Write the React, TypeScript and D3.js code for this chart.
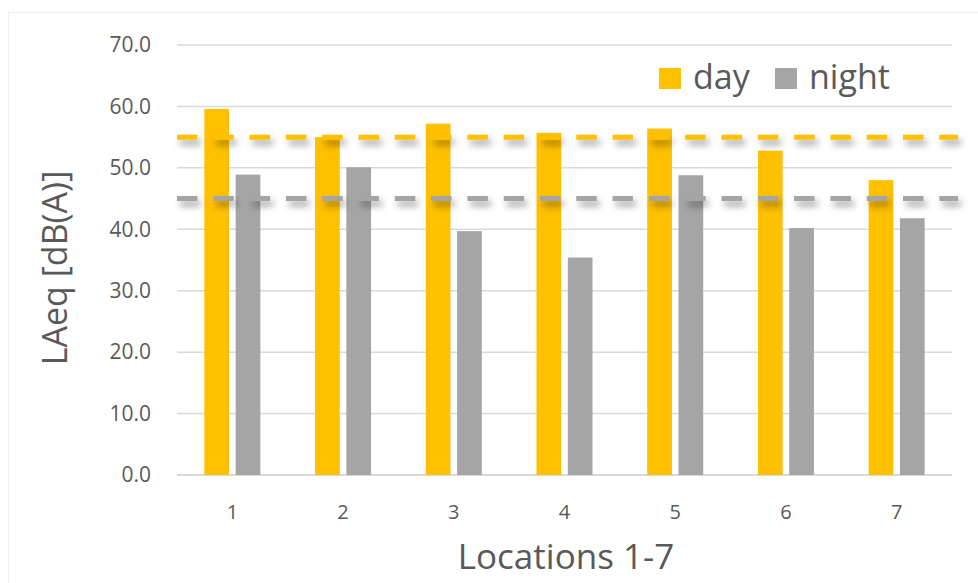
import React from "react";
import * as d3 from "d3";

const locations = ["1", "2", "3", "4", "5", "6", "7"];
const dayValues = [59.6, 55.0, 57.2, 55.7, 56.4, 52.8, 48.0];
const nightValues = [48.9, 50.1, 39.7, 35.4, 48.8, 40.2, 41.8];
const seriesNames = ["day", "night"];
const yTicks = [0, 10, 20, 30, 40, 50, 60, 70];
const dayLimit = 55;
const nightLimit = 45;

const W = 978;
const H = 583;
const margin = { left: 177, right: 26, top: 45, bottom: 108 };
const DAY = "#ffc000";
const NIGHT = "#a5a5a5";
const TEXT = "#595959";
const FONT = "'Open Sans', 'Noto Sans', sans-serif";

export default function App() {
  const x0 = d3
    .scaleBand<string>()
    .domain(locations)
    .range([margin.left, W - margin.right])
    .paddingInner(0.494)
    .paddingOuter(0.247);
  const x1 = d3
    .scaleBand<string>()
    .domain(seriesNames)
    .range([0, x0.bandwidth()])
    .paddingInner(0.21);
  const y = d3
    .scaleLinear()
    .domain([0, 70])
    .range([H - margin.bottom, margin.top]);

  const rows = locations.map((loc, i) => ({
    loc,
    values: [
      { key: "day", v: dayValues[i], color: DAY },
      { key: "night", v: nightValues[i], color: NIGHT },
    ],
  }));

  const fmt = d3.format(".1f");
  const xl = margin.left;
  const xr = W - margin.right;

  const limitLine = (v: number, color: string) => (
    <line
      x1={xl}
      x2={xr + 6}
      y1={y(v)}
      y2={y(v)}
      stroke={color}
      strokeWidth={5}
      strokeDasharray="20.5 15.8"
      filter="url(#dashShadow)"
    />
  );

  return (
    <svg
      width={W}
      height={H}
      style={{ position: "absolute", left: 0, top: 0, background: "#fff" }}
      fontFamily={FONT}
    >
      <defs>
        <filter
          id="dashShadow"
          filterUnits="userSpaceOnUse"
          x={0}
          y={0}
          width={W}
          height={H}
        >
          <feDropShadow dx={3} dy={5} stdDeviation={3.6} floodColor="#000" floodOpacity={0.4} />
        </filter>
      </defs>
      <rect x={8.5} y={12.5} width={W} height={H} fill="none" stroke="#efefef" />

      {/* gridlines */}
      {yTicks.map((t) => (
        <line
          key={t}
          x1={xl}
          x2={xr}
          y1={y(t)}
          y2={y(t)}
          stroke="#d9d9d9"
          strokeWidth={t === 0 ? 2 : 1.5}
        />
      ))}

      {/* y tick labels */}
      {yTicks.map((t) => (
        <text
          key={t}
          x={151}
          y={y(t)}
          dy="0.35em"
          textAnchor="end"
          fontSize={21}
          fill={TEXT}
        >
          {fmt(t)}
        </text>
      ))}

      {/* bars */}
      {rows.map((r) => (
        <g key={r.loc} transform={`translate(${x0(r.loc)},0)`}>
          {r.values.map((d) => (
            <rect
              key={d.key}
              x={x1(d.key)}
              y={y(d.v)}
              width={x1.bandwidth()}
              height={y(0) - y(d.v)}
              fill={d.color}
            />
          ))}
        </g>
      ))}

      {/* limit lines */}
      {limitLine(dayLimit, DAY)}
      {limitLine(nightLimit, NIGHT)}

      {/* x tick labels */}
      {locations.map((loc) => (
        <text
          key={loc}
          x={(x0(loc) as number) + x0.bandwidth() / 2}
          y={519}
          textAnchor="middle"
          fontSize={20}
          fill={TEXT}
        >
          {loc}
        </text>
      ))}

      {/* axis titles */}
      <text x={566} y={569} textAnchor="middle" fontSize={35} fill={TEXT}>
        Locations 1-7
      </text>
      <text
        transform={`translate(67,${268}) rotate(-90)`}
        textAnchor="middle"
        fontSize={34}
        fill={TEXT}
      >
        LAeq [dB(A)]
      </text>

      {/* legend */}
      <rect x={659} y={68} width={22} height={21} fill={DAY} />
      <text x={693} y={89} fontSize={34} fill={TEXT}>
        day
      </text>
      <rect x={775} y={68} width={22} height={21} fill={NIGHT} />
      <text x={809} y={89} fontSize={34} fill={TEXT}>
        night
      </text>
    </svg>
  );
}
